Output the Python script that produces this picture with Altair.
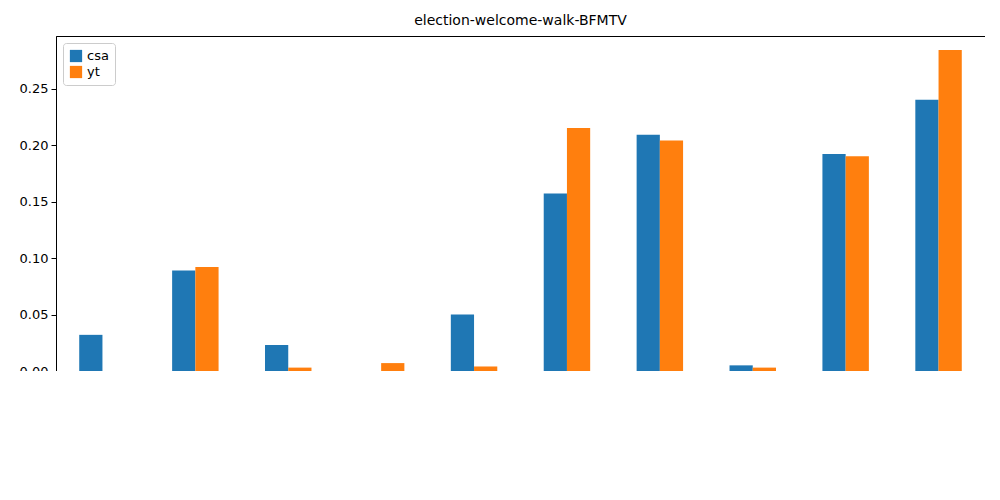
import altair as alt
import pandas as pd

candidates = ["Roussel", "Mélenchon", "Hidalgo", "Montebourg", "Jadot", "Macron",
              "Pécresse", "Dupont-Aignan", "Le Pen", "Zemmour"]
csa = [0.032, 0.089, 0.023, 0.0, 0.050, 0.157, 0.209, 0.005, 0.192, 0.240]
yt = [0.0, 0.092, 0.003, 0.007, 0.004, 0.215, 0.204, 0.003, 0.190, 0.284]

rows = []
for c, a, b in zip(candidates, csa, yt):
    rows.append({"cand": c, "series": "csa", "v": a})
    rows.append({"cand": c, "series": "yt", "v": b})
df = pd.DataFrame(rows)

font = "DejaVu Sans"
chart = alt.Chart(df).mark_bar().encode(
    x=alt.X("cand:N", sort=candidates, title=None,
            scale=alt.Scale(paddingInner=0.5, paddingOuter=0.25),
            axis=alt.Axis(labelAngle=-90, labelFontSize=13, labelColor="black",
                          tickColor="black", domainColor="black", labelFont=font,
                          tickSize=5, labelPadding=3)),
    xOffset=alt.XOffset("series:N", scale=alt.Scale(paddingInner=0, paddingOuter=0)),
    y=alt.Y("v:Q", title=None, scale=alt.Scale(domain=[0, 0.2965], nice=False),
            axis=alt.Axis(values=[0, 0.05, 0.1, 0.15, 0.2, 0.25], format=".2f", grid=False,
                          labelFontSize=13, labelColor="black", tickColor="black",
                          domainColor="black", labelFont=font, tickSize=5, labelPadding=3)),
    color=alt.Color("series:N", scale=alt.Scale(domain=["csa", "yt"], range=["#1f77b4", "#ff7f0e"]),
                    legend=alt.Legend(title=None, orient="top-left", symbolType="square",
                                      symbolSize=150, labelFontSize=13, labelFont=font,
                                      strokeColor="#cccccc", fillColor="white", padding=6,
                                      cornerRadius=3, offset=7)),
).properties(
    width=929, height=335,
    autosize=alt.AutoSizeParams(type="none"),
    padding={"left": 48, "top": 28, "right": 0, "bottom": 0},
    title=alt.Title("election-welcome-walk-BFMTV", fontSize=14, fontWeight="normal",
                    font=font, offset=8),
).configure_view(stroke="black")

chart.save("out.html", embed_options={"renderer": "svg", "actions": False})
